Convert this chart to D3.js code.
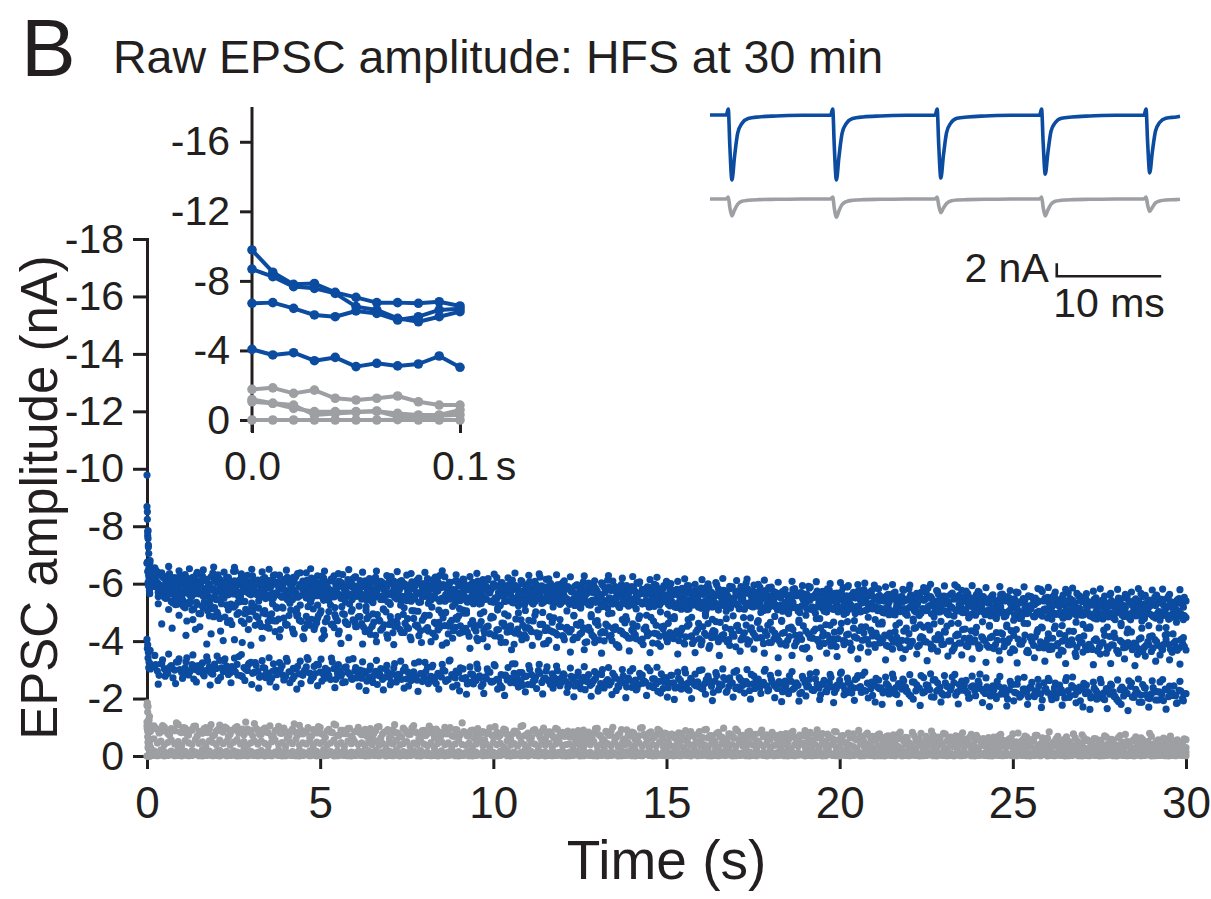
<!DOCTYPE html>
<html>
<head>
<meta charset="utf-8">
<script src="https://cdn.jsdelivr.net/npm/d3@7"></script>
<style>
  body { margin: 0; background: #fff; }
  svg text { font-family: "Liberation Sans", Arial, Helvetica, sans-serif; fill: #231f20; }
</style>
</head>
<body>
<svg id="fig" width="1211" height="899"></svg>
<script>
'use strict';

const BLUE = '#0b4ca1';
const GRAY = '#9d9fa2';
const INK = '#231f20';

// axis ticks
const xTicks = [0, 5, 10, 15, 20, 25, 30];
const yTicks = [0, -2, -4, -6, -8, -10, -12, -14, -16, -18];
const insetXTicks = [0, 0.1];
const insetYTicks = [0, -4, -8, -12, -16];

// first 0.1 s of the train (100 Hz), shown in the inset (nA)
const burstTimes = [0, 0.01, 0.02, 0.03, 0.04, 0.05, 0.06, 0.07, 0.08, 0.09, 0.1];
const burstA = [-9.78, -8.50, -7.80, -7.85, -7.34, -7.05, -6.75, -6.75, -6.71, -6.80, -6.56];
const burstB = [-8.68, -8.24, -7.67, -7.57, -7.28, -6.52, -6.33, -5.85, -5.65, -5.94, -6.23];
const burstC = [-6.71, -6.75, -6.42, -6.04, -5.94, -6.27, -6.13, -5.75, -5.94, -6.33, -6.40];
const burstD = [-4.06, -3.74, -3.87, -3.41, -3.60, -3.07, -3.26, -3.11, -3.22, -3.68, -3.03];
const burstG1 = [-1.76, -1.85, -1.53, -1.72, -1.25, -1.15, -1.25, -1.38, -1.05, -0.86, -0.86];
const burstG2 = [-1.05, -0.96, -0.67, -0.48, -0.48, -0.48, -0.50, -0.38, -0.29, -0.29, -0.58];
const burstG3 = [-1.18, -0.96, -0.86, -0.29, -0.38, -0.45, -0.52, -0.20, -0.15, -0.25, -0.30];
const burstG4 = [0, 0, 0, 0, 0, 0, 0, -0.02, 0, 0, 0];

// rest of the 30 s train, sampled responses every 0.1 s in three interleaved
// sets starting at 0.2 s, 0.225 s and 0.25 s (nA)
const EVEN_START = 0.2;
const WIDE_START = 0.225;
const ODD_START = 0.25;
const TRAIN_STEP = 0.1;

const trainA = [
  -6.52, -6.41, -6.33, -6.18, -6.27, -6.05, -6.21, -5.96, -6.14, -6.32, -6.02, -6.19, -5.91, -6.08, -6.26, -6.11, -5.98, -6.37, -6.04, -6.15, -5.88, -6.22, -6.09, -6.43, -5.95, -6.13, -6.01, -6.29, -6.06, -5.93,
  -6.12, -5.87, -6.21, -6.00, -5.94, -6.31, -6.07, -5.82, -6.16, -6.04, -5.97, -6.25, -5.90, -6.09, -6.38, -5.99, -6.13, -5.85, -6.02, -6.19, -5.93, -6.11, -6.27, -5.96, -6.05, -5.80, -6.14, -6.01, -6.23, -5.92,
  -5.88, -6.10, -5.97, -5.79, -6.22, -5.93, -6.04, -5.85, -6.15, -5.99, -5.74, -6.07, -5.91, -6.30, -5.96, -5.83, -6.12, -6.01, -5.90, -6.18, -5.81, -5.98, -6.06, -5.87, -6.24, -5.95, -5.76, -6.09, -5.92, -6.02,
  -5.95, -5.78, -6.05, -5.86, -5.71, -6.14, -5.90, -5.82, -5.99, -6.21, -5.84, -5.69, -5.93, -6.02, -5.80, -5.88, -6.11, -5.75, -5.97, -5.85, -6.08, -5.73, -5.92, -5.83, -6.17, -5.89, -5.67, -5.96, -6.03, -5.81,
  -5.84, -5.70, -5.95, -5.77, -6.06, -5.66, -5.81, -5.92, -5.74, -5.59, -5.88, -6.12, -5.76, -5.83, -5.68, -5.97, -5.79, -5.63, -5.90, -5.72, -6.01, -5.80, -5.61, -5.86, -5.75, -5.94, -5.69, -5.82, -6.08, -5.73,
  -5.62, -5.80, -5.71, -5.55, -5.93, -5.67, -5.76, -5.50, -5.85, -5.64, -5.99, -5.70, -5.58, -5.82, -5.66, -5.74, -5.52, -5.89, -5.69, -5.61, -5.78, -6.02, -5.65, -5.73, -5.56, -5.87, -5.68, -5.60, -5.81, -5.72,
  -5.66, -5.51, -5.75, -5.57, -5.44, -5.83, -5.60, -5.69, -5.48, -5.91, -5.55, -5.63, -5.40, -5.72, -5.59, -5.78, -5.53, -5.65, -5.46, -5.86, -5.58, -5.50, -5.70, -5.61, -5.42, -5.79, -5.56, -5.67, -5.95, -5.54,
  -5.52, -5.40, -5.63, -5.47, -5.71, -5.36, -5.55, -5.44, -5.82, -5.49, -5.33, -5.60, -5.45, -5.68, -5.51, -5.39, -5.76, -5.48, -5.57, -5.31, -5.62, -5.46, -5.88, -5.42, -5.53, -5.65, -5.38, -5.50, -5.73, -5.44,
  -5.45, -5.32, -5.58, -5.39, -5.27, -5.64, -5.41, -5.50, -5.29, -5.71, -5.37, -5.48, -5.24, -5.55, -5.43, -5.34, -5.80, -5.40, -5.52, -5.30, -5.61, -5.36, -5.47, -5.26, -5.68, -5.42, -5.33, -5.57, -5.38, -5.49,
  -5.37, -5.25, -5.51, -5.31, -5.44, -5.20, -5.62, -5.34, -5.28, -5.47, -5.23, -5.56, -5.35, -5.41, -5.19, -5.66, -5.30, -5.39, -5.26, -5.53, -5.33, -5.45, -5.22, -5.58, -5.36, -5.29, -5.48, -5.32, -5.40
];
const trainAOdd = [
  -6.47, -6.30, -6.24, -6.09, -6.35, -6.16, -5.99, -6.28, -6.07, -6.20, -5.94, -6.12, -6.39, -6.03, -6.17, -5.89, -6.24, -6.10, -6.31, -5.97, -6.06, -6.22, -6.00, -6.44, -6.11, -5.92, -6.18, -6.04, -6.27, -6.08,
  -5.98, -6.17, -6.06, -5.84, -6.29, -6.01, -5.91, -6.13, -6.22, -5.88, -6.08, -6.35, -5.95, -6.03, -5.86, -6.19, -6.10, -5.93, -6.26, -6.05, -5.81, -6.15, -5.99, -6.09, -6.32, -5.90, -6.02, -6.18, -5.87, -6.11,
  -6.03, -5.82, -5.96, -6.16, -5.89, -6.08, -5.77, -6.00, -6.25, -5.91, -5.84, -6.11, -5.98, -5.72, -6.06, -5.94, -6.19, -5.86, -6.02, -5.80, -6.13, -5.92, -6.28, -5.97, -5.85, -6.05, -5.78, -6.09, -5.93, -6.14,
  -5.80, -5.97, -5.88, -6.09, -5.74, -5.91, -6.18, -5.83, -5.95, -5.70, -6.04, -5.87, -5.79, -6.12, -5.92, -5.68, -5.99, -5.85, -6.07, -5.77, -5.94, -6.23, -5.81, -5.89, -6.01, -5.72, -5.96, -5.84, -6.10, -5.90,
  -5.73, -5.91, -5.65, -5.86, -5.79, -6.02, -5.70, -5.84, -5.62, -5.95, -5.77, -5.88, -6.09, -5.71, -5.81, -5.58, -5.93, -5.75, -5.85, -6.04, -5.67, -5.80, -5.89, -5.64, -5.98, -5.76, -5.83, -5.60, -5.92, -5.78,
  -5.75, -5.59, -5.84, -5.66, -5.92, -5.70, -5.53, -5.79, -5.63, -5.87, -5.72, -5.57, -5.96, -5.68, -5.77, -5.61, -5.83, -5.51, -5.74, -5.90, -5.65, -5.81, -5.55, -5.71, -5.98, -5.64, -5.76, -5.86, -5.58, -5.69,
  -5.55, -5.72, -5.62, -5.47, -5.80, -5.58, -5.68, -5.43, -5.64, -5.88, -5.52, -5.74, -5.60, -5.49, -5.82, -5.57, -5.66, -5.41, -5.71, -5.54, -5.93, -5.61, -5.50, -5.77, -5.63, -5.45, -5.69, -5.56, -5.84, -5.59,
  -5.41, -5.58, -5.49, -5.66, -5.37, -5.54, -5.77, -5.45, -5.61, -5.34, -5.52, -5.70, -5.43, -5.85, -5.50, -5.39, -5.63, -5.47, -5.56, -5.32, -5.67, -5.48, -5.59, -5.42, -5.74, -5.51, -5.35, -5.62, -5.46, -5.55,
  -5.36, -5.51, -5.43, -5.28, -5.62, -5.40, -5.55, -5.31, -5.47, -5.69, -5.35, -5.44, -5.58, -5.26, -5.50, -5.38, -5.73, -5.42, -5.33, -5.54, -5.45, -5.22, -5.60, -5.39, -5.48, -5.30, -5.66, -5.41, -5.52, -5.34,
  -5.29, -5.45, -5.36, -5.21, -5.57, -5.32, -5.41, -5.18, -5.50, -5.27, -5.63, -5.38, -5.24, -5.47, -5.33, -5.55, -5.20, -5.43, -5.30, -5.60, -5.35, -5.26, -5.49, -5.37, -5.16, -5.44, -5.31, -5.52
];
const trainAWide = [
  -6.55, -5.70, -6.38, -5.88, -6.60, -6.02, -5.66, -6.45, -6.20, -5.79, -6.52, -5.95, -6.31, -5.64, -6.48, -6.10, -5.83, -6.58, -6.25, -5.73, -6.40, -6.05, -5.91, -6.57, -5.68, -6.34, -6.15, -5.76, -6.50, -5.98,
  -5.58, -6.41, -5.85, -6.50, -6.12, -5.62, -6.30, -5.96, -6.47, -5.71, -6.22, -5.55, -6.38, -6.05, -5.80, -6.52, -5.67, -6.27, -5.92, -6.44, -5.60, -6.17, -5.75, -6.35, -6.01, -5.53, -6.49, -5.88, -6.24, -5.69,
  -6.40, -5.52, -6.18, -5.73, -6.44, -5.90, -5.47, -6.28, -5.66, -6.09, -6.42, -5.58, -6.00, -5.80, -6.35, -5.49, -6.13, -5.70, -6.39, -5.95, -5.55, -6.23, -5.84, -6.45, -5.62, -6.05, -5.77, -6.31, -5.50, -6.16,
  -5.41, -6.25, -5.68, -6.36, -5.92, -5.45, -6.12, -5.79, -6.33, -5.55, -6.02, -5.38, -6.20, -5.86, -6.37, -5.62, -6.08, -5.49, -6.29, -5.74, -5.97, -6.34, -5.42, -6.15, -5.83, -5.58, -6.31, -5.70, -6.05, -5.47,
  -6.24, -5.33, -5.96, -5.60, -6.27, -5.82, -5.36, -6.10, -5.51, -6.03, -5.70, -6.28, -5.42, -5.90, -5.64, -6.19, -5.29, -5.85, -6.25, -5.56, -6.06, -5.75, -5.31, -6.14, -5.67, -6.22, -5.45, -5.93, -5.38, -6.00,
  -5.22, -6.08, -5.55, -6.17, -5.74, -5.26, -5.98, -5.61, -6.14, -5.39, -5.85, -5.19, -6.04, -5.70, -6.18, -5.47, -5.91, -5.32, -6.11, -5.58, -5.80, -6.16, -5.24, -5.95, -5.66, -5.43, -6.12, -5.52, -5.88, -5.29,
  -6.05, -5.13, -5.79, -5.40, -6.08, -5.62, -5.17, -5.93, -5.34, -5.85, -5.52, -6.07, -5.22, -5.73, -5.45, -6.00, -5.10, -5.67, -6.04, -5.37, -5.88, -5.56, -5.14, -5.97, -5.48, -6.02, -5.27, -5.76, -5.19, -5.82,
  -5.03, -5.89, -5.35, -5.97, -5.55, -5.07, -5.80, -5.42, -5.95, -5.20, -5.66, -5.00, -5.86, -5.50, -5.98, -5.28, -5.73, -5.12, -5.92, -5.38, -5.61, -5.96, -5.05, -5.77, -5.46, -5.24, -5.93, -5.33, -5.70, -5.10,
  -5.86, -4.95, -5.61, -5.22, -5.90, -5.44, -4.99, -5.76, -5.16, -5.68, -5.35, -5.89, -5.04, -5.55, -5.27, -5.83, -4.92, -5.49, -5.87, -5.19, -5.71, -5.38, -4.96, -5.80, -5.30, -5.85, -5.09, -5.58, -5.01, -5.65,
  -4.88, -5.74, -5.20, -5.82, -5.40, -4.92, -5.66, -5.27, -5.80, -5.05, -5.51, -4.85, -5.71, -5.36, -5.83, -5.13, -5.59, -4.97, -5.78, -5.24, -5.47, -5.81, -4.90, -5.63, -5.31, -5.09, -5.79, -5.18
];

const trainB = [
  -6.21, -6.05, -5.92, -5.84, -5.71, -5.88, -5.63, -5.79, -5.95, -5.68, -5.82, -5.57, -5.74, -5.90, -5.66, -5.81, -5.52, -5.77, -5.69, -5.86, -5.60, -5.75, -5.98, -5.64, -5.72, -5.55, -5.83, -5.70, -5.61, -5.78,
  -5.70, -5.55, -5.81, -5.59, -5.47, -5.66, -5.88, -5.53, -5.62, -5.74, -5.44, -5.68, -5.57, -5.79, -5.50, -5.64, -5.92, -5.58, -5.71, -5.42, -5.60, -5.76, -5.54, -5.67, -5.49, -5.84, -5.61, -5.52, -5.73, -5.63,
  -5.46, -5.63, -5.51, -5.38, -5.72, -5.55, -5.44, -5.60, -5.34, -5.67, -5.49, -5.81, -5.53, -5.41, -5.58, -5.47, -5.69, -5.36, -5.56, -5.64, -5.43, -5.52, -5.75, -5.48, -5.39, -5.61, -5.54, -5.32, -5.66, -5.50,
  -5.51, -5.37, -5.60, -5.42, -5.29, -5.55, -5.46, -5.68, -5.35, -5.48, -5.24, -5.57, -5.40, -5.63, -5.33, -5.45, -5.52, -5.27, -5.71, -5.44, -5.38, -5.58, -5.31, -5.49, -5.41, -5.65, -5.36, -5.47, -5.54, -5.39,
  -5.28, -5.45, -5.34, -5.19, -5.52, -5.36, -5.25, -5.43, -5.61, -5.30, -5.41, -5.15, -5.38, -5.49, -5.27, -5.56, -5.32, -5.22, -5.46, -5.35, -5.64, -5.29, -5.40, -5.18, -5.50, -5.33, -5.26, -5.44, -5.37, -5.23,
  -5.31, -5.17, -5.39, -5.22, -5.10, -5.46, -5.26, -5.35, -5.14, -5.28, -5.53, -5.20, -5.33, -5.08, -5.42, -5.25, -5.16, -5.37, -5.29, -5.12, -5.48, -5.23, -5.34, -5.19, -5.40, -5.27, -5.06, -5.30, -5.21, -5.44,
  -5.09, -5.26, -5.13, -5.01, -5.32, -5.17, -5.05, -5.22, -5.41, -5.11, -5.19, -4.97, -5.28, -5.15, -5.03, -5.36, -5.12, -5.24, -5.07, -5.18, -4.99, -5.30, -5.14, -5.21, -5.02, -5.38, -5.10, -5.25, -5.16, -5.06,
  -5.12, -4.98, -5.20, -5.04, -4.91, -5.27, -5.08, -4.95, -5.16, -5.33, -5.01, -4.89, -5.13, -5.06, -5.24, -4.94, -5.10, -5.02, -5.29, -4.97, -5.15, -4.87, -5.07, -5.19, -5.00, -5.36, -4.93, -5.11, -5.03, -5.22,
  -4.92, -5.08, -4.95, -4.83, -5.14, -4.99, -4.88, -5.05, -5.22, -4.91, -4.79, -5.02, -4.96, -5.17, -4.86, -5.00, -4.93, -5.11, -4.81, -5.06, -4.97, -5.25, -4.89, -5.03, -4.85, -5.09, -4.94, -5.13, -4.90, -5.01,
  -4.96, -4.84, -5.03, -4.88, -4.77, -5.10, -4.92, -4.81, -5.00, -5.18, -4.86, -4.95, -4.74, -5.06, -4.89, -4.98, -4.79, -5.13, -4.91, -4.83, -5.01, -4.87, -5.08, -4.76, -4.94, -4.85, -5.04, -4.90, -4.82
];
const trainBOdd = [
  -6.10, -5.97, -5.86, -5.76, -5.91, -5.65, -5.83, -5.58, -5.72, -5.89, -5.62, -5.80, -5.69, -5.94, -5.59, -5.73, -5.85, -5.54, -5.78, -5.67, -5.90, -5.61, -5.76, -5.84, -5.56, -5.71, -5.96, -5.66, -5.79, -5.63,
  -5.57, -5.74, -5.61, -5.86, -5.50, -5.69, -5.58, -5.80, -5.45, -5.65, -5.77, -5.53, -5.90, -5.60, -5.70, -5.48, -5.82, -5.63, -5.55, -5.75, -5.41, -5.67, -5.85, -5.59, -5.51, -5.72, -5.64, -5.94, -5.56, -5.68,
  -5.58, -5.42, -5.66, -5.50, -5.77, -5.45, -5.59, -5.37, -5.62, -5.53, -5.70, -5.40, -5.56, -5.84, -5.47, -5.61, -5.35, -5.54, -5.68, -5.44, -5.57, -5.73, -5.39, -5.51, -5.63, -5.46, -5.79, -5.52, -5.41, -5.60,
  -5.36, -5.53, -5.44, -5.62, -5.31, -5.47, -5.70, -5.39, -5.50, -5.26, -5.58, -5.43, -5.66, -5.34, -5.49, -5.41, -5.74, -5.38, -5.55, -5.29, -5.46, -5.61, -5.35, -5.52, -5.40, -5.68, -5.45, -5.32, -5.56, -5.42,
  -5.39, -5.24, -5.47, -5.31, -5.58, -5.27, -5.42, -5.35, -5.63, -5.20, -5.37, -5.51, -5.29, -5.44, -5.17, -5.40, -5.55, -5.33, -5.25, -5.48, -5.36, -5.66, -5.30, -5.43, -5.21, -5.53, -5.34, -5.46, -5.28, -5.38,
  -5.18, -5.35, -5.25, -5.44, -5.13, -5.30, -5.51, -5.22, -5.36, -5.09, -5.27, -5.41, -5.19, -5.57, -5.24, -5.32, -5.15, -5.38, -5.26, -5.47, -5.11, -5.29, -5.21, -5.43, -5.34, -5.16, -5.50, -5.23, -5.31, -5.20,
  -5.20, -5.04, -5.27, -5.11, -5.35, -5.16, -5.00, -5.23, -5.13, -5.44, -5.08, -5.19, -5.31, -5.05, -5.25, -5.14, -5.39, -5.02, -5.18, -5.29, -5.10, -5.22, -4.96, -5.17, -5.33, -5.07, -5.26, -5.12, -5.47, -5.15,
  -5.00, -5.17, -5.06, -4.93, -5.25, -5.03, -5.13, -4.90, -5.21, -5.07, -5.31, -4.97, -5.10, -5.19, -4.95, -5.14, -5.02, -5.38, -5.05, -4.92, -5.16, -5.08, -5.27, -4.99, -5.11, -4.86, -5.18, -5.04, -5.23, -5.01,
  -5.03, -4.88, -5.10, -4.94, -5.19, -4.85, -5.01, -5.13, -4.91, -5.07, -4.82, -5.16, -4.98, -5.24, -4.90, -5.04, -4.87, -5.12, -4.96, -5.30, -4.93, -5.00, -4.80, -5.08, -4.95, -5.20, -4.89, -5.05, -4.92, -5.15,
  -4.93, -4.80, -5.02, -4.87, -5.11, -4.84, -4.97, -4.75, -5.05, -4.91, -5.16, -4.82, -4.99, -4.88, -5.08, -4.78, -4.95, -5.21, -4.86, -4.92, -4.73, -5.03, -4.90, -4.81, -5.07, -4.85, -4.96, -4.89
];
const trainBWide = [
  -6.20, -5.30, -5.92, -5.50, -6.24, -5.78, -5.27, -6.05, -5.44, -5.98, -5.62, -6.22, -5.35, -5.85, -5.56, -6.15, -5.25, -5.81, -6.18, -5.47, -6.01, -5.68, -5.29, -6.10, -5.59, -6.23, -5.38, -5.88, -5.32, -5.95,
  -5.15, -6.02, -5.48, -6.11, -5.67, -5.19, -5.92, -5.55, -6.08, -5.32, -5.78, -5.12, -5.98, -5.64, -6.12, -5.40, -5.85, -5.25, -6.05, -5.51, -5.73, -6.10, -5.17, -5.89, -5.60, -5.36, -6.06, -5.45, -5.81, -5.22,
  -5.98, -5.07, -5.73, -5.34, -6.02, -5.56, -5.10, -5.88, -5.28, -5.80, -5.47, -6.01, -5.16, -5.67, -5.39, -5.95, -5.04, -5.61, -5.99, -5.31, -5.83, -5.50, -5.08, -5.91, -5.42, -5.97, -5.21, -5.70, -5.13, -5.77,
  -4.97, -5.84, -5.30, -5.92, -5.50, -5.02, -5.75, -5.37, -5.90, -5.15, -5.61, -4.95, -5.81, -5.45, -5.93, -5.23, -5.68, -5.07, -5.87, -5.33, -5.56, -5.91, -5.00, -5.72, -5.41, -5.19, -5.88, -5.28, -5.64, -5.05,
  -5.79, -4.88, -5.54, -5.15, -5.83, -5.37, -4.92, -5.69, -5.09, -5.61, -5.28, -5.82, -4.97, -5.48, -5.20, -5.76, -4.85, -5.42, -5.80, -5.12, -5.64, -5.31, -4.90, -5.73, -5.23, -5.78, -5.02, -5.51, -4.94, -5.58,
  -4.78, -5.65, -5.11, -5.73, -5.31, -4.83, -5.56, -5.18, -5.71, -4.96, -5.42, -4.76, -5.62, -5.27, -5.74, -5.04, -5.49, -4.88, -5.68, -5.14, -5.37, -5.72, -4.81, -5.53, -5.22, -5.00, -5.69, -5.09, -5.45, -4.86,
  -5.60, -4.69, -5.35, -4.96, -5.64, -5.18, -4.73, -5.50, -4.90, -5.42, -5.09, -5.63, -4.78, -5.29, -5.01, -5.57, -4.66, -5.23, -5.61, -4.93, -5.45, -5.12, -4.71, -5.54, -5.04, -5.59, -4.83, -5.32, -4.75, -5.39,
  -4.60, -5.46, -4.92, -5.54, -5.12, -4.64, -5.37, -4.99, -5.52, -4.77, -5.23, -4.57, -5.43, -5.08, -5.55, -4.85, -5.30, -4.69, -5.49, -4.95, -5.18, -5.53, -4.62, -5.34, -5.03, -4.81, -5.50, -4.90, -5.26, -4.67,
  -5.43, -4.52, -5.18, -4.79, -5.47, -5.01, -4.56, -5.33, -4.73, -5.25, -4.92, -5.46, -4.61, -5.12, -4.84, -5.40, -4.49, -5.06, -5.44, -4.76, -5.28, -4.95, -4.54, -5.37, -4.87, -5.42, -4.66, -5.15, -4.58, -5.22,
  -4.45, -5.31, -4.77, -5.39, -4.97, -4.49, -5.22, -4.84, -5.37, -4.62, -5.08, -4.42, -5.28, -4.93, -5.40, -4.70, -5.15, -4.54, -5.34, -4.80, -5.03, -5.38, -4.47, -5.19, -4.88, -4.66, -5.35, -4.75
];

const trainC = [
  -6.10, -5.88, -5.71, -5.54, -5.60, -5.38, -5.47, -5.29, -5.52, -5.16, -5.35, -5.08, -4.41, -4.96, -5.22, -5.31, -4.88, -5.13, -5.44, -4.79, -4.02, -5.26, -4.71, -5.18, -4.93, -5.37, -4.62, -5.01, -3.86, -5.20,
  -4.82, -4.51, -5.06, -4.68, -4.95, -4.33, -4.77, -5.18, -4.60, -4.89, -4.42, -5.01, -4.73, -4.16, -4.86, -4.55, -5.12, -4.64, -4.97, -4.38, -4.80, -5.25, -4.47, -4.71, -3.92, -4.93, -4.58, -5.04, -4.66, -4.84,
  -4.61, -4.33, -4.87, -4.52, -4.20, -4.74, -4.45, -5.02, -4.58, -4.29, -4.69, -4.41, -4.93, -4.50, -4.14, -4.79, -4.56, -4.36, -4.83, -4.47, -3.98, -4.65, -4.39, -4.98, -4.54, -4.25, -4.72, -4.48, -4.88, -4.31,
  -4.44, -4.17, -4.71, -4.35, -4.56, -4.08, -4.49, -4.26, -4.83, -4.39, -4.12, -4.62, -4.31, -4.53, -3.89, -4.42, -4.74, -4.22, -4.47, -4.33, -4.90, -4.15, -4.58, -4.37, -4.03, -4.66, -4.28, -4.51, -4.19, -4.43,
  -4.32, -4.05, -4.58, -4.24, -4.46, -3.97, -4.36, -4.15, -4.71, -4.28, -4.01, -4.52, -4.20, -4.40, -3.84, -4.34, -4.63, -4.11, -4.38, -4.22, -4.79, -4.07, -4.49, -4.26, -3.93, -4.55, -4.17, -4.43, -4.09, -4.30,
  -4.09, -4.35, -4.21, -3.94, -4.52, -4.16, -4.02, -4.40, -3.87, -4.27, -4.61, -4.12, -4.33, -3.98, -4.19, -4.47, -4.05, -4.24, -3.80, -4.37, -4.14, -4.56, -4.00, -4.29, -4.11, -4.43, -3.91, -4.20, -4.65, -4.07,
  -4.14, -3.90, -4.30, -4.03, -4.49, -3.84, -4.19, -4.06, -3.72, -4.25, -4.11, -4.42, -3.96, -4.17, -4.57, -3.99, -4.08, -3.81, -4.34, -4.02, -4.22, -3.93, -4.45, -4.10, -3.77, -4.28, -4.05, -4.38, -3.88, -4.15,
  -3.95, -4.21, -3.82, -4.09, -4.33, -3.91, -4.03, -3.70, -4.26, -3.99, -4.47, -3.86, -4.12, -3.97, -4.39, -3.78, -4.05, -4.18, -3.89, -4.52, -4.01, -3.74, -4.24, -3.93, -4.10, -3.81, -4.36, -4.04, -3.87, -4.15,
  -4.01, -3.79, -4.17, -3.88, -3.66, -4.25, -3.94, -4.08, -3.73, -4.40, -3.90, -4.02, -3.62, -4.13, -3.85, -4.31, -3.97, -3.76, -4.06, -3.83, -4.44, -3.91, -3.69, -4.19, -3.87, -4.04, -3.58, -4.10, -3.95, -3.80,
  -3.89, -3.71, -4.08, -3.80, -3.95, -3.58, -4.16, -3.86, -3.67, -4.02, -3.77, -4.29, -3.83, -3.93, -3.54, -4.11, -3.79, -3.98, -3.64, -4.05, -3.85, -3.73, -4.21, -3.88, -3.61, -4.00, -3.76, -3.92, -3.69
];
const trainCOdd = [
  -5.95, -5.80, -5.63, -5.49, -5.66, -5.33, -5.42, -5.57, -5.21, -4.70, -5.39, -5.12, -5.28, -4.95, -5.35, -5.06, -4.25, -5.17, -4.91, -5.30, -4.84, -5.09, -4.58, -5.24, -4.99, -3.95, -5.11, -4.76, -5.03, -4.87,
  -4.64, -4.98, -4.49, -4.87, -4.71, -5.14, -4.40, -4.80, -4.57, -5.08, -4.26, -4.92, -4.69, -4.45, -5.20, -4.76, -4.53, -4.89, -4.08, -4.67, -5.03, -4.59, -4.83, -4.35, -4.96, -4.62, -5.29, -4.74, -4.50, -4.85,
  -4.49, -4.78, -4.23, -4.66, -4.92, -4.38, -4.57, -4.10, -4.70, -4.51, -4.85, -4.30, -4.62, -4.44, -5.06, -4.55, -4.19, -4.73, -4.41, -4.90, -4.27, -4.60, -4.47, -4.81, -3.94, -4.64, -4.36, -4.76, -4.53, -4.97,
  -4.31, -4.60, -4.45, -4.02, -4.68, -4.27, -4.52, -4.86, -4.18, -4.40, -4.63, -3.96, -4.48, -4.33, -4.77, -4.24, -4.55, -4.11, -4.42, -4.70, -4.29, -4.58, -3.90, -4.46, -4.36, -4.81, -4.21, -4.50, -4.05, -4.39,
  -4.40, -4.13, -4.55, -4.29, -3.95, -4.48, -4.21, -4.66, -4.04, -4.33, -4.59, -4.17, -4.45, -3.88, -4.37, -4.25, -4.74, -4.10, -4.31, -4.52, -4.00, -4.42, -4.19, -4.83, -4.27, -3.91, -4.50, -4.23, -4.62, -4.14,
  -4.26, -4.02, -4.44, -4.15, -4.58, -3.92, -4.31, -4.08, -4.50, -4.20, -3.84, -4.37, -4.12, -4.65, -4.23, -3.98, -4.41, -4.17, -4.55, -4.04, -4.29, -3.89, -4.46, -4.19, -4.71, -4.10, -4.33, -3.95, -4.39, -4.22,
  -4.01, -4.27, -3.86, -4.16, -4.40, -3.97, -4.22, -4.53, -3.78, -4.12, -4.35, -4.05, -4.46, -3.92, -4.20, -3.83, -4.31, -4.09, -4.62, -3.99, -4.24, -3.75, -4.14, -4.37, -4.03, -4.50, -3.89, -4.18, -4.28, -3.94,
  -4.07, -3.85, -4.28, -3.96, -4.13, -3.77, -4.35, -4.02, -3.90, -4.44, -3.81, -4.16, -3.98, -4.55, -3.73, -4.09, -4.23, -3.88, -4.31, -4.00, -3.66, -4.19, -3.93, -4.40, -3.84, -4.11, -3.97, -4.48, -3.79, -4.05,
  -3.86, -4.12, -3.74, -4.03, -4.29, -3.81, -3.96, -4.37, -3.68, -4.07, -3.89, -4.21, -3.60, -3.99, -4.15, -3.77, -4.46, -3.92, -3.71, -4.10, -3.84, -4.26, -3.65, -4.01, -3.87, -4.34, -3.78, -3.94, -4.18, -3.70,
  -3.81, -4.03, -3.66, -3.92, -4.20, -3.74, -3.87, -4.12, -3.57, -3.96, -3.79, -4.33, -3.70, -3.90, -4.07, -3.63, -3.85, -4.16, -3.76, -3.98, -3.52, -3.88, -4.24, -3.72, -3.94, -3.68, -4.05, -3.82
];
const trainCWide = [
  -5.90, -5.55, -4.60, -5.75, -5.10, -4.45, -5.60, -4.90, -5.40, -4.20, -5.30, -4.75, -5.65, -4.50, -5.15, -3.90, -5.45, -4.85, -5.00, -4.35, -5.50, -4.65, -5.25, -4.05, -5.35, -4.70, -4.95, -4.40, -5.20, -4.55,
  -5.40, -4.10, -4.95, -4.45, -5.30, -4.70, -4.15, -5.15, -4.55, -5.42, -4.30, -4.88, -5.25, -4.08, -4.62, -5.35, -4.40, -4.80, -5.05, -4.20, -5.45, -4.58, -4.92, -4.25, -5.20, -4.68, -4.12, -5.10, -4.50, -4.85,
  -3.90, -5.20, -4.40, -4.95, -3.98, -4.70, -5.12, -4.22, -4.85, -3.88, -4.60, -5.25, -4.30, -4.78, -4.05, -5.05, -4.48, -3.95, -4.90, -4.35, -5.18, -4.15, -4.65, -3.86, -5.00, -4.52, -4.10, -4.82, -4.27, -5.08,
  -5.05, -3.75, -4.60, -4.10, -4.95, -4.38, -3.80, -4.80, -4.20, -5.08, -3.95, -4.52, -4.88, -3.70, -4.28, -4.98, -4.05, -4.45, -4.72, -3.85, -5.02, -4.25, -4.58, -3.92, -4.85, -4.32, -3.78, -4.75, -4.15, -4.48,
  -3.62, -4.90, -4.12, -4.65, -3.70, -4.40, -4.85, -3.95, -4.55, -3.58, -4.30, -4.95, -4.02, -4.50, -3.78, -4.75, -4.20, -3.66, -4.60, -4.08, -4.88, -3.88, -4.35, -3.60, -4.70, -4.25, -3.82, -4.52, -3.98, -4.80,
  -4.85, -3.55, -4.38, -3.90, -4.75, -4.18, -3.60, -4.62, -4.00, -4.88, -3.75, -4.30, -4.68, -3.50, -4.08, -4.78, -3.85, -4.25, -4.52, -3.65, -4.82, -4.05, -4.40, -3.72, -4.65, -4.12, -3.58, -4.55, -3.95, -4.28,
  -3.42, -4.72, -3.92, -4.45, -3.50, -4.20, -4.65, -3.75, -4.35, -3.40, -4.10, -4.78, -3.82, -4.30, -3.58, -4.55, -4.00, -3.46, -4.40, -3.88, -4.68, -3.68, -4.15, -3.38, -4.50, -4.05, -3.62, -4.32, -3.78, -4.60,
  -4.66, -3.35, -4.18, -3.72, -4.55, -3.98, -3.40, -4.45, -3.82, -4.70, -3.55, -4.10, -4.48, -3.32, -3.90, -4.60, -3.65, -4.05, -4.35, -3.48, -4.62, -3.85, -4.22, -3.52, -4.42, -3.95, -3.38, -4.30, -3.75, -4.12,
  -3.26, -4.55, -3.78, -4.30, -3.35, -4.02, -4.50, -3.60, -4.20, -3.24, -3.95, -4.62, -3.68, -4.15, -3.42, -4.40, -3.85, -3.30, -4.25, -3.72, -4.52, -3.52, -4.00, -3.22, -4.35, -3.90, -3.46, -4.12, -3.62, -4.45,
  -4.50, -3.18, -4.02, -3.55, -4.38, -3.80, -3.22, -4.28, -3.66, -4.54, -3.38, -3.95, -4.32, -3.15, -3.74, -4.45, -3.48, -3.88, -4.18, -3.30, -4.46, -3.70, -4.05, -3.35, -4.25, -3.78, -3.20, -4.12
];

const trainD = [
  -3.12, -2.96, -3.21, -3.04, -2.87, -3.15, -2.99, -3.28, -2.91, -3.07, -2.82, -3.18, -3.01, -2.93, -3.24, -2.97, -3.10, -2.85, -3.05, -3.33, -2.94, -3.13, -2.89, -3.02, -3.19, -2.80, -3.08, -2.98, -3.26, -2.92,
  -2.95, -2.79, -3.06, -2.84, -2.71, -2.99, -2.90, -3.14, -2.76, -2.93, -2.68, -3.02, -2.86, -2.81, -3.10, -2.89, -2.74, -3.19, -2.92, -2.83, -2.97, -2.66, -3.04, -2.87, -2.78, -3.08, -2.91, -2.72, -2.96, -2.85,
  -2.71, -2.90, -2.76, -2.62, -2.95, -2.80, -2.67, -3.03, -2.74, -2.85, -2.58, -2.82, -2.98, -2.69, -2.79, -2.93, -2.64, -2.87, -2.73, -3.09, -2.77, -2.60, -2.88, -2.75, -2.96, -2.66, -2.83, -2.72, -2.91, -2.70,
  -2.73, -2.57, -2.84, -2.63, -2.79, -2.51, -2.70, -2.92, -2.60, -2.67, -2.46, -2.81, -2.65, -2.55, -2.88, -2.69, -2.58, -2.76, -2.49, -2.83, -2.64, -2.97, -2.56, -2.71, -2.61, -2.86, -2.53, -2.68, -2.78, -2.59,
  -2.50, -2.68, -2.55, -2.41, -2.74, -2.59, -2.46, -2.63, -2.86, -2.52, -2.37, -2.66, -2.57, -2.78, -2.44, -2.61, -2.53, -2.71, -2.39, -2.64, -2.49, -2.82, -2.56, -2.43, -2.69, -2.51, -2.60, -2.35, -2.72, -2.54,
  -2.55, -2.40, -2.63, -2.45, -2.33, -2.70, -2.49, -2.58, -2.37, -2.52, -2.78, -2.43, -2.61, -2.30, -2.47, -2.66, -2.42, -2.54, -2.35, -2.73, -2.46, -2.59, -2.28, -2.51, -2.64, -2.39, -2.56, -2.44, -2.81, -2.48,
  -2.35, -2.52, -2.41, -2.27, -2.60, -2.38, -2.46, -2.22, -2.55, -2.43, -2.31, -2.68, -2.36, -2.49, -2.25, -2.57, -2.40, -2.33, -2.63, -2.44, -2.20, -2.51, -2.37, -2.72, -2.42, -2.29, -2.54, -2.34, -2.47, -2.39,
  -2.37, -2.24, -2.45, -2.29, -2.17, -2.52, -2.33, -2.40, -2.15, -2.58, -2.27, -2.36, -2.20, -2.48, -2.31, -2.64, -2.26, -2.39, -2.12, -2.43, -2.30, -2.55, -2.23, -2.34, -2.46, -2.18, -2.41, -2.28, -2.61, -2.32,
  -2.18, -2.35, -2.21, -2.08, -2.42, -2.25, -2.13, -2.30, -2.49, -2.19, -2.05, -2.33, -2.24, -2.40, -2.11, -2.27, -2.16, -2.55, -2.22, -2.09, -2.37, -2.20, -2.31, -2.02, -2.28, -2.45, -2.14, -2.26, -2.34, -2.17,
  -2.19, -2.06, -2.28, -2.11, -2.00, -2.35, -2.15, -2.23, -1.97, -2.31, -2.09, -2.18, -2.42, -2.04, -2.21, -2.12, -2.38, -2.02, -2.16, -2.26, -1.95, -2.14, -2.33, -2.07, -2.20, -2.10, -2.29, -2.01, -2.17
];
const trainDOdd = [
  -3.18, -2.81, -3.35, -2.95, -3.09, -2.72, -3.27, -3.01, -2.86, -3.42, -2.97, -2.68, -3.14, -3.05, -2.79, -3.31, -2.90, -3.20, -2.63, -3.07, -3.38, -2.84, -3.11, -2.93, -3.46, -2.77, -3.02, -3.23, -2.88, -3.16,
  -2.74, -3.08, -2.90, -2.58, -3.21, -2.83, -3.02, -2.65, -3.30, -2.93, -2.77, -3.12, -2.52, -2.98, -3.36, -2.70, -2.87, -3.17, -2.61, -3.05, -2.81, -3.27, -2.67, -2.95, -2.55, -3.10, -2.85, -3.39, -2.72, -2.99,
  -2.96, -2.61, -3.13, -2.80, -2.49, -3.04, -2.73, -2.91, -2.56, -3.22, -2.84, -2.67, -3.09, -2.44, -2.88, -2.76, -3.28, -2.59, -2.94, -2.70, -3.16, -2.52, -2.83, -3.00, -2.64, -3.34, -2.78, -2.47, -3.07, -2.69,
  -2.51, -2.86, -2.69, -3.05, -2.42, -2.75, -2.93, -2.57, -3.14, -2.64, -2.38, -2.82, -2.71, -3.21, -2.53, -2.90, -2.46, -2.78, -3.02, -2.60, -2.35, -2.88, -2.67, -3.10, -2.49, -2.74, -2.97, -2.55, -2.81, -2.40,
  -2.77, -2.44, -2.92, -2.60, -2.31, -2.83, -2.52, -2.70, -2.36, -3.01, -2.58, -2.47, -2.88, -2.28, -2.65, -2.79, -2.40, -2.95, -2.55, -2.34, -2.74, -2.62, -3.08, -2.45, -2.69, -2.25, -2.86, -2.57, -2.38, -2.81,
  -2.37, -2.70, -2.52, -2.89, -2.29, -2.61, -2.45, -2.98, -2.33, -2.66, -2.55, -2.21, -2.80, -2.43, -2.73, -2.26, -2.58, -2.92, -2.40, -2.64, -2.19, -2.51, -2.84, -2.35, -2.68, -2.47, -3.02, -2.30, -2.59, -2.42,
  -2.59, -2.24, -2.47, -2.79, -2.32, -2.55, -2.17, -2.68, -2.41, -2.86, -2.28, -2.50, -2.13, -2.63, -2.36, -2.74, -2.21, -2.45, -2.92, -2.30, -2.57, -2.19, -2.66, -2.38, -2.81, -2.26, -2.52, -2.11, -2.70, -2.34,
  -2.20, -2.52, -2.35, -2.71, -2.14, -2.43, -2.62, -2.27, -2.09, -2.57, -2.38, -2.80, -2.23, -2.46, -2.06, -2.66, -2.31, -2.18, -2.55, -2.40, -2.75, -2.12, -2.49, -2.29, -2.63, -2.03, -2.44, -2.34, -2.85, -2.25,
  -2.41, -2.09, -2.30, -2.60, -2.15, -2.37, -1.98, -2.50, -2.22, -2.69, -2.12, -2.33, -2.05, -2.56, -2.26, -2.44, -1.95, -2.35, -2.63, -2.17, -2.02, -2.47, -2.20, -2.73, -2.10, -2.39, -2.28, -1.92, -2.53, -2.24,
  -2.02, -2.36, -2.18, -2.55, -1.96, -2.27, -2.46, -2.08, -1.90, -2.40, -2.21, -2.62, -2.05, -2.32, -1.87, -2.49, -2.14, -2.00, -2.38, -2.24, -2.58, -1.93, -2.30, -2.11, -2.44, -1.85, -2.26, -2.16
];
const trainDWide = [
  -3.50, -2.50, -3.22, -2.78, -3.55, -3.05, -2.52, -3.38, -2.70, -3.28, -2.92, -3.52, -2.58, -3.15, -2.85, -3.45, -2.47, -3.08, -3.48, -2.74, -3.32, -2.97, -2.55, -3.41, -2.82, -3.53, -2.63, -3.18, -2.49, -3.25,
  -2.36, -3.32, -2.73, -3.42, -2.95, -2.40, -3.25, -2.82, -3.40, -2.55, -3.05, -2.33, -3.30, -2.90, -3.43, -2.62, -3.12, -2.45, -3.37, -2.70, -2.98, -3.41, -2.38, -3.18, -2.86, -2.58, -3.35, -2.67, -3.08, -2.43,
  -3.28, -2.28, -3.00, -2.56, -3.33, -2.83, -2.30, -3.16, -2.48, -3.06, -2.70, -3.30, -2.36, -2.93, -2.63, -3.23, -2.25, -2.86, -3.26, -2.52, -3.10, -2.75, -2.33, -3.19, -2.60, -3.31, -2.41, -2.96, -2.27, -3.03,
  -2.15, -3.10, -2.51, -3.20, -2.73, -2.18, -3.03, -2.60, -3.18, -2.33, -2.83, -2.11, -3.08, -2.68, -3.21, -2.40, -2.90, -2.23, -3.15, -2.48, -2.76, -3.19, -2.16, -2.96, -2.64, -2.36, -3.13, -2.45, -2.86, -2.21,
  -3.06, -2.06, -2.78, -2.34, -3.11, -2.61, -2.08, -2.94, -2.26, -2.84, -2.48, -3.08, -2.14, -2.71, -2.41, -3.01, -2.03, -2.64, -3.04, -2.30, -2.88, -2.53, -2.11, -2.97, -2.38, -3.09, -2.19, -2.74, -2.05, -2.81,
  -1.97, -2.92, -2.33, -3.02, -2.55, -2.00, -2.85, -2.42, -3.00, -2.15, -2.65, -1.93, -2.90, -2.50, -3.03, -2.22, -2.72, -2.05, -2.97, -2.30, -2.58, -3.01, -1.98, -2.78, -2.46, -2.18, -2.95, -2.27, -2.68, -2.03,
  -2.89, -1.89, -2.61, -2.17, -2.94, -2.44, -1.91, -2.77, -2.09, -2.67, -2.31, -2.91, -1.97, -2.54, -2.24, -2.84, -1.86, -2.47, -2.87, -2.13, -2.71, -2.36, -1.94, -2.80, -2.21, -2.92, -2.02, -2.57, -1.88, -2.64,
  -1.80, -2.75, -2.16, -2.85, -2.38, -1.83, -2.68, -2.25, -2.83, -1.98, -2.48, -1.76, -2.73, -2.33, -2.86, -2.05, -2.55, -1.88, -2.80, -2.13, -2.41, -2.84, -1.81, -2.61, -2.29, -2.01, -2.78, -2.10, -2.51, -1.86,
  -2.72, -1.72, -2.44, -2.00, -2.77, -2.27, -1.74, -2.60, -1.92, -2.50, -2.14, -2.74, -1.80, -2.37, -2.07, -2.67, -1.69, -2.30, -2.70, -1.96, -2.54, -2.19, -1.77, -2.63, -2.04, -2.75, -1.85, -2.40, -1.71, -2.47,
  -1.62, -2.57, -1.98, -2.67, -2.20, -1.65, -2.50, -2.07, -2.65, -1.80, -2.30, -1.58, -2.55, -2.15, -2.68, -1.87, -2.37, -1.70, -2.62, -1.95, -2.23, -2.66, -1.63, -2.43, -2.11, -1.83, -2.60, -1.92
];

const trainG1 = [
  -1.05, -0.92, -0.84, -1.01, -0.78, -0.95, -0.88, -1.10, -0.81, -0.97, -0.73, -0.90, -1.04, -0.86, -0.79, -0.99, -0.93, -0.70, -0.87, -1.08, -0.83, -0.96, -0.76, -0.91, -1.02, -0.85, -0.74, -0.94, -0.89, -1.13,
  -0.90, -0.76, -0.97, -0.81, -0.68, -0.88, -1.03, -0.79, -0.85, -0.71, -0.94, -0.82, -1.07, -0.77, -0.86, -0.65, -0.92, -0.80, -0.99, -0.74, -0.87, -0.83, -1.11, -0.72, -0.89, -0.78, -0.95, -0.69, -0.84, -1.00,
  -0.74, -0.93, -0.79, -0.66, -0.88, -1.02, -0.77, -0.84, -0.62, -0.91, -0.81, -0.70, -0.97, -0.83, -0.75, -1.06, -0.80, -0.68, -0.89, -0.78, -0.95, -0.64, -0.86, -0.73, -1.00, -0.82, -0.71, -0.92, -0.76, -1.15,
  -0.81, -0.69, -0.90, -0.74, -0.61, -0.85, -0.78, -0.98, -0.67, -0.83, -0.72, -0.94, -0.75, -0.58, -0.87, -0.79, -1.03, -0.70, -0.80, -0.64, -0.92, -0.77, -0.86, -0.60, -0.84, -0.73, -0.96, -0.68, -0.82, -0.71,
  -0.66, -0.84, -0.71, -0.58, -0.90, -0.75, -0.63, -0.80, -0.96, -0.69, -0.55, -0.78, -0.87, -0.65, -0.73, -0.92, -0.60, -0.76, -0.83, -0.57, -0.70, -0.99, -0.67, -0.81, -0.62, -0.74, -0.88, -0.59, -0.77, -0.68,
  -0.73, -0.60, -0.79, -0.64, -0.52, -0.85, -0.68, -0.75, -0.57, -0.91, -0.63, -0.71, -0.50, -0.82, -0.66, -0.59, -0.77, -0.69, -0.94, -0.55, -0.72, -0.62, -0.86, -0.65, -0.53, -0.80, -0.67, -0.74, -0.58, -0.70,
  -0.58, -0.75, -0.61, -0.49, -0.81, -0.66, -0.54, -0.70, -0.88, -0.59, -0.47, -0.73, -0.63, -0.78, -0.52, -0.67, -0.60, -0.84, -0.56, -0.71, -0.45, -0.64, -0.77, -0.57, -0.69, -0.51, -0.80, -0.62, -0.55, -0.74,
  -0.63, -0.50, -0.70, -0.55, -0.44, -0.76, -0.58, -0.65, -0.47, -0.82, -0.53, -0.61, -0.41, -0.68, -0.56, -0.73, -0.49, -0.60, -0.79, -0.52, -0.66, -0.43, -0.59, -0.71, -0.54, -0.46, -0.75, -0.57, -0.62, -0.48,
  -0.48, -0.64, -0.51, -0.40, -0.70, -0.55, -0.44, -0.60, -0.77, -0.49, -0.37, -0.58, -0.66, -0.46, -0.53, -0.72, -0.42, -0.56, -0.62, -0.38, -0.50, -0.68, -0.45, -0.59, -0.52, -0.35, -0.63, -0.47, -0.74, -0.54,
  -0.52, -0.40, -0.60, -0.45, -0.34, -0.66, -0.48, -0.55, -0.38, -0.71, -0.43, -0.51, -0.32, -0.58, -0.46, -0.63, -0.39, -0.50, -0.68, -0.42, -0.56, -0.36, -0.49, -0.61, -0.44, -0.53, -0.30, -0.47, -0.57
];
const trainG1Odd = [
  -0.97, -0.80, -1.06, -0.88, -0.72, -0.93, -1.15, -0.84, -0.99, -0.77, -0.90, -1.03, -0.69, -0.86, -0.95, -0.81, -1.09, -0.74, -0.92, -0.87, -1.01, -0.66, -0.89, -0.98, -0.79, -0.94, -1.18, -0.83, -0.71, -0.96,
  -0.75, -0.92, -0.84, -1.05, -0.67, -0.88, -0.79, -0.97, -0.62, -0.86, -1.12, -0.73, -0.90, -0.81, -0.99, -0.70, -0.85, -1.02, -0.77, -0.64, -0.93, -0.82, -1.08, -0.72, -0.89, -0.78, -0.96, -0.60, -0.87, -0.80,
  -0.86, -0.69, -0.95, -0.78, -1.01, -0.63, -0.83, -0.92, -0.72, -1.09, -0.80, -0.66, -0.90, -0.75, -0.98, -0.84, -0.59, -0.88, -0.71, -1.04, -0.79, -0.94, -0.65, -0.82, -0.77, -0.99, -0.68, -0.91, -0.74, -0.85,
  -0.70, -0.88, -0.63, -0.95, -0.79, -0.56, -0.84, -0.73, -1.02, -0.67, -0.81, -0.91, -0.60, -0.77, -0.86, -0.69, -1.06, -0.74, -0.58, -0.89, -0.80, -0.65, -0.97, -0.72, -0.83, -0.62, -0.93, -0.76, -0.68, -0.87,
  -0.79, -0.61, -0.88, -0.70, -0.53, -0.83, -0.67, -0.95, -0.74, -0.59, -0.86, -0.72, -1.00, -0.64, -0.78, -0.55, -0.91, -0.69, -0.81, -0.62, -0.97, -0.75, -0.57, -0.84, -0.66, -0.93, -0.71, -0.80, -0.51, -0.76,
  -0.62, -0.81, -0.56, -0.88, -0.69, -0.74, -0.49, -0.85, -0.64, -0.93, -0.71, -0.58, -0.79, -0.67, -0.97, -0.54, -0.76, -0.63, -0.87, -0.70, -0.47, -0.83, -0.66, -0.75, -0.52, -0.90, -0.68, -0.60, -0.82, -0.72,
  -0.69, -0.52, -0.78, -0.61, -0.86, -0.57, -0.73, -0.44, -0.67, -0.82, -0.59, -0.91, -0.64, -0.50, -0.76, -0.62, -0.85, -0.55, -0.70, -0.47, -0.80, -0.66, -0.58, -0.89, -0.63, -0.74, -0.42, -0.68, -0.56, -0.77,
  -0.51, -0.68, -0.45, -0.74, -0.60, -0.83, -0.53, -0.64, -0.40, -0.71, -0.57, -0.79, -0.48, -0.62, -0.87, -0.55, -0.66, -0.43, -0.76, -0.59, -0.50, -0.70, -0.46, -0.81, -0.58, -0.65, -0.39, -0.72, -0.54, -0.61,
  -0.58, -0.41, -0.66, -0.49, -0.75, -0.54, -0.36, -0.62, -0.47, -0.80, -0.52, -0.69, -0.43, -0.57, -0.72, -0.38, -0.63, -0.50, -0.84, -0.45, -0.60, -0.55, -0.34, -0.67, -0.48, -0.77, -0.53, -0.42, -0.64, -0.56,
  -0.44, -0.61, -0.37, -0.55, -0.70, -0.42, -0.58, -0.33, -0.64, -0.48, -0.75, -0.40, -0.53, -0.67, -0.35, -0.57, -0.46, -0.79, -0.41, -0.52, -0.31, -0.62, -0.45, -0.69, -0.38, -0.56, -0.49, -0.60
];

const trainG2 = [
  -0.60, -0.45, -0.52, -0.39, -0.47, -0.56, -0.42, -0.50, -0.36, -0.54, -0.46, -0.41, -0.58, -0.44, -0.49, -0.35, -0.53, -0.47, -0.40, -0.55, -0.43, -0.51, -0.38, -0.48, -0.57, -0.42, -0.50, -0.37, -0.46, -0.53,
  -0.41, -0.52, -0.44, -0.36, -0.49, -0.55, -0.40, -0.47, -0.33, -0.51, -0.43, -0.58, -0.38, -0.46, -0.42, -0.53, -0.35, -0.48, -0.44, -0.50, -0.37, -0.45, -0.56, -0.39, -0.47, -0.34, -0.52, -0.43, -0.49, -0.40,
  -0.46, -0.35, -0.49, -0.40, -0.53, -0.37, -0.44, -0.31, -0.48, -0.42, -0.55, -0.38, -0.43, -0.50, -0.33, -0.45, -0.39, -0.52, -0.41, -0.36, -0.47, -0.30, -0.44, -0.51, -0.39, -0.46, -0.34, -0.42, -0.57, -0.40,
  -0.37, -0.45, -0.33, -0.42, -0.50, -0.36, -0.41, -0.29, -0.47, -0.39, -0.44, -0.32, -0.53, -0.38, -0.43, -0.35, -0.48, -0.40, -0.30, -0.46, -0.41, -0.34, -0.51, -0.37, -0.44, -0.28, -0.42, -0.49, -0.36, -0.40,
  -0.42, -0.33, -0.46, -0.37, -0.29, -0.44, -0.39, -0.51, -0.35, -0.40, -0.27, -0.43, -0.36, -0.48, -0.32, -0.41, -0.38, -0.45, -0.30, -0.39, -0.47, -0.34, -0.42, -0.26, -0.40, -0.36, -0.49, -0.33, -0.43, -0.37,
  -0.32, -0.41, -0.35, -0.27, -0.44, -0.38, -0.30, -0.47, -0.34, -0.39, -0.25, -0.42, -0.36, -0.31, -0.45, -0.37, -0.28, -0.40, -0.33, -0.49, -0.35, -0.29, -0.43, -0.38, -0.26, -0.41, -0.34, -0.46, -0.31, -0.37,
  -0.38, -0.29, -0.42, -0.33, -0.25, -0.40, -0.35, -0.46, -0.31, -0.37, -0.23, -0.39, -0.32, -0.44, -0.28, -0.36, -0.41, -0.30, -0.34, -0.48, -0.27, -0.38, -0.33, -0.24, -0.43, -0.35, -0.30, -0.39, -0.26, -0.36,
  -0.28, -0.37, -0.31, -0.24, -0.41, -0.33, -0.27, -0.44, -0.30, -0.35, -0.22, -0.38, -0.32, -0.26, -0.40, -0.34, -0.29, -0.46, -0.31, -0.25, -0.36, -0.33, -0.21, -0.39, -0.30, -0.42, -0.28, -0.34, -0.23, -0.37,
  -0.34, -0.26, -0.38, -0.29, -0.22, -0.36, -0.31, -0.42, -0.27, -0.33, -0.20, -0.35, -0.30, -0.39, -0.25, -0.32, -0.28, -0.44, -0.29, -0.23, -0.37, -0.31, -0.26, -0.40, -0.30, -0.21, -0.34, -0.28, -0.36, -0.27,
  -0.25, -0.33, -0.28, -0.21, -0.37, -0.30, -0.24, -0.40, -0.27, -0.32, -0.19, -0.35, -0.29, -0.23, -0.38, -0.26, -0.31, -0.20, -0.34, -0.28, -0.42, -0.25, -0.30, -0.22, -0.36, -0.27, -0.33, -0.24, -0.29
];

const trainG3 = [
  -0.18, -0.12, -0.21, -0.15, -0.09, -0.17, -0.13, -0.24, -0.11, -0.16, -0.08, -0.19, -0.14, -0.10, -0.22, -0.13, -0.17, -0.07, -0.15, -0.20, -0.12, -0.16, -0.09, -0.18, -0.14, -0.11, -0.23, -0.13, -0.16, -0.10,
  -0.13, -0.19, -0.10, -0.16, -0.08, -0.14, -0.21, -0.12, -0.17, -0.06, -0.15, -0.11, -0.20, -0.14, -0.09, -0.18, -0.13, -0.16, -0.07, -0.22, -0.12, -0.15, -0.10, -0.17, -0.13, -0.19, -0.08, -0.14, -0.11, -0.16,
  -0.15, -0.09, -0.18, -0.12, -0.20, -0.11, -0.14, -0.07, -0.16, -0.13, -0.21, -0.10, -0.15, -0.12, -0.08, -0.17, -0.14, -0.19, -0.11, -0.13, -0.06, -0.16, -0.12, -0.18, -0.10, -0.14, -0.22, -0.11, -0.15, -0.09,
  -0.12, -0.17, -0.09, -0.14, -0.06, -0.15, -0.11, -0.19, -0.13, -0.08, -0.16, -0.12, -0.20, -0.10, -0.14, -0.07, -0.13, -0.18, -0.11, -0.15, -0.09, -0.21, -0.12, -0.14, -0.08, -0.16, -0.11, -0.13, -0.17, -0.10,
  -0.14, -0.08, -0.16, -0.11, -0.19, -0.10, -0.13, -0.06, -0.15, -0.12, -0.18, -0.09, -0.14, -0.11, -0.07, -0.17, -0.12, -0.15, -0.08, -0.20, -0.11, -0.13, -0.09, -0.16, -0.10, -0.14, -0.05, -0.12, -0.18, -0.11,
  -0.10, -0.15, -0.08, -0.13, -0.18, -0.11, -0.06, -0.14, -0.09, -0.16, -0.12, -0.07, -0.17, -0.10, -0.13, -0.19, -0.08, -0.12, -0.15, -0.09, -0.11, -0.05, -0.14, -0.10, -0.16, -0.08, -0.13, -0.11, -0.17, -0.09,
  -0.12, -0.07, -0.14, -0.10, -0.17, -0.08, -0.13, -0.05, -0.11, -0.15, -0.09, -0.12, -0.18, -0.08, -0.10, -0.14, -0.06, -0.13, -0.11, -0.16, -0.09, -0.12, -0.07, -0.15, -0.10, -0.13, -0.08, -0.19, -0.11, -0.09,
  -0.09, -0.13, -0.07, -0.11, -0.16, -0.10, -0.05, -0.12, -0.08, -0.14, -0.11, -0.06, -0.15, -0.09, -0.12, -0.17, -0.07, -0.10, -0.13, -0.08, -0.11, -0.04, -0.12, -0.09, -0.14, -0.07, -0.11, -0.10, -0.16, -0.08,
  -0.11, -0.06, -0.13, -0.09, -0.15, -0.07, -0.12, -0.04, -0.10, -0.14, -0.08, -0.11, -0.17, -0.07, -0.09, -0.13, -0.05, -0.12, -0.10, -0.15, -0.08, -0.11, -0.06, -0.14, -0.09, -0.12, -0.07, -0.16, -0.10, -0.08,
  -0.08, -0.12, -0.06, -0.10, -0.15, -0.09, -0.04, -0.11, -0.07, -0.13, -0.10, -0.05, -0.14, -0.08, -0.11, -0.16, -0.06, -0.09, -0.12, -0.07, -0.10, -0.03, -0.11, -0.08, -0.13, -0.06, -0.10, -0.09, -0.14
];

const trainG4 = [
  -0.02, -0.01, -0.03, 0, -0.02, -0.04, -0.01, -0.02, 0, -0.03, -0.01, -0.02, -0.05, -0.01, 0, -0.02, -0.03, -0.01, -0.02, 0, -0.04, -0.01, -0.02, -0.03, 0, -0.01, -0.02, -0.01, -0.03, -0.02,
  -0.01, -0.03, 0, -0.02, -0.01, -0.04, -0.02, 0, -0.01, -0.03, -0.02, -0.01, 0, -0.02, -0.04, -0.01, -0.03, 0, -0.02, -0.01, -0.02, -0.05, 0, -0.01, -0.03, -0.02, -0.01, 0, -0.02, -0.03,
  -0.02, 0, -0.01, -0.03, -0.02, -0.01, -0.04, 0, -0.02, -0.01, -0.03, 0, -0.02, -0.01, -0.02, -0.04, -0.01, 0, -0.03, -0.02, -0.01, -0.02, 0, -0.03, -0.01, -0.02, -0.04, -0.01, 0, -0.02,
  -0.03, -0.01, 0, -0.02, -0.04, -0.01, -0.02, -0.03, 0, -0.01, -0.02, -0.05, -0.01, 0, -0.02, -0.03, -0.01, -0.02, 0, -0.04, -0.02, -0.01, -0.03, 0, -0.02, -0.01, -0.02, -0.03, -0.01, 0,
  -0.01, -0.02, -0.04, 0, -0.01, -0.03, -0.02, -0.01, 0, -0.02, -0.03, -0.01, -0.02, -0.04, 0, -0.01, -0.02, -0.03, -0.01, 0, -0.02, -0.01, -0.05, -0.02, 0, -0.01, -0.03, -0.02, -0.01, -0.02,
  0, -0.02, -0.01, -0.03, -0.02, 0, -0.04, -0.01, -0.02, -0.03, -0.01, 0, -0.02, -0.01, -0.03, -0.02, -0.04, 0, -0.01, -0.02, -0.03, -0.01, 0, -0.02, -0.01, -0.04, -0.02, 0, -0.03, -0.01,
  -0.02, -0.03, -0.01, 0, -0.02, -0.01, -0.03, -0.04, 0, -0.02, -0.01, -0.02, -0.03, 0, -0.01, -0.05, -0.02, -0.01, 0, -0.03, -0.02, -0.01, -0.02, -0.04, 0, -0.01, -0.03, -0.02, 0, -0.01,
  -0.01, 0, -0.03, -0.02, -0.01, -0.04, 0, -0.02, -0.01, -0.03, -0.02, 0, -0.01, -0.02, -0.04, -0.01, 0, -0.03, -0.02, -0.01, -0.02, 0, -0.03, -0.01, -0.02, -0.04, -0.01, 0, -0.02, -0.03,
  -0.02, -0.01, 0, -0.03, -0.02, -0.01, -0.02, -0.04, 0, -0.01, -0.03, -0.02, -0.01, 0, -0.02, -0.03, -0.01, -0.05, 0, -0.02, -0.01, -0.03, -0.02, 0, -0.01, -0.02, -0.04, -0.01, 0, -0.02,
  -0.01, -0.03, -0.02, 0, -0.01, -0.02, -0.04, -0.01, 0, -0.03, -0.02, -0.01, -0.02, 0, -0.03, -0.01, -0.02, -0.04, 0, -0.01, -0.02, -0.03, -0.01, 0, -0.02, -0.01, -0.03, -0.02, -0.01
];

// example current traces, first five responses (ms, nA)
const traceTimes = [
  0,
  1.55, 1.75, 1.9, 2.1, 2.35, 2.65, 3.05, 3.65, 4.65, 6.35, 8.85,
  11.55, 11.75, 11.9, 12.1, 12.35, 12.65, 13.05, 13.65, 14.65, 16.35, 18.85,
  21.55, 21.75, 21.9, 22.1, 22.35, 22.65, 23.05, 23.65, 24.65, 26.35, 28.85,
  31.55, 31.75, 31.9, 32.1, 32.35, 32.65, 33.05, 33.65, 34.65, 36.35, 38.85,
  41.55, 41.75, 41.9, 42.1, 42.35, 42.65, 43.05, 43.65, 44.65, 45.0
];
const traceBlue = [
  0,
  0, 0.9, -4.8, -10.0, -6.4, -2.8, -1.3, -0.55, -0.3, -0.15, -0.05,
  -0.02, 0.9, -4.8, -10.0, -6.4, -2.8, -1.3, -0.55, -0.3, -0.15, -0.05,
  -0.02, 0.9, -4.6, -9.7, -6.2, -2.7, -1.25, -0.5, -0.3, -0.15, -0.05,
  -0.02, 0.9, -4.3, -9.1, -5.8, -2.5, -1.2, -0.5, -0.3, -0.15, -0.05,
  -0.02, 0.9, -4.2, -8.9, -5.7, -2.5, -1.15, -0.5, -0.3, -0.2
];
const traceGray = [
  0,
  0, 0.3, -1.3, -2.6, -1.7, -0.8, -0.35, -0.2, -0.1, -0.05, 0,
  0, 0.3, -1.4, -2.8, -1.8, -0.85, -0.4, -0.2, -0.1, -0.05, 0,
  0, 0.3, -1.0, -2.1, -1.4, -0.7, -0.3, -0.15, -0.1, -0.05, 0,
  0, 0.3, -1.3, -2.6, -1.7, -0.8, -0.35, -0.2, -0.1, -0.05, 0,
  0, 0.3, -0.9, -1.9, -1.3, -0.6, -0.3, -0.15, -0.1, -0.05
];

// scale bar (trace units)
const barTime = 33.2, barLenMs = 10, barLenNa = 2, barLevel = -24.8;

const cells = [
  { burst: burstG1, sets: [[EVEN_START, trainG1], [ODD_START, trainG1Odd]], color: GRAY },
  { burst: burstG2, sets: [[EVEN_START, trainG2]], color: GRAY },
  { burst: burstG3, sets: [[EVEN_START, trainG3]], color: GRAY },
  { burst: burstG4, sets: [[EVEN_START, trainG4]], color: GRAY },
  { burst: burstA, sets: [[EVEN_START, trainA], [WIDE_START, trainAWide], [ODD_START, trainAOdd]], color: BLUE },
  { burst: burstB, sets: [[EVEN_START, trainB], [WIDE_START, trainBWide], [ODD_START, trainBOdd]], color: BLUE },
  { burst: burstC, sets: [[EVEN_START, trainC], [WIDE_START, trainCWide], [ODD_START, trainCOdd]], color: BLUE },
  { burst: burstD, sets: [[EVEN_START, trainD], [WIDE_START, trainDWide], [ODD_START, trainDOdd]], color: BLUE }
];

const svg = d3.select('#fig');

const styleAxis = (g, fontSize) => {
  g.attr('font-family', null).attr('font-size', null);
  g.selectAll('path.domain').attr('stroke', INK).attr('stroke-width', 3).attr('stroke-linecap', 'square');
  g.selectAll('.tick line').attr('stroke', INK).attr('stroke-width', 3);
  g.selectAll('.tick text').attr('fill', INK).style('font-size', fontSize + 'px');
};

// ---- titles
svg.append('text').attr('x', 21).attr('y', 76).style('font-size', '82px').text('B');
svg.append('text').attr('x', 113).attr('y', 73).style('font-size', '46.5px')
  .text('Raw EPSC amplitude: HFS at 30 min');

// ---- main plot
const x = d3.scaleLinear().domain([0, 30]).range([147, 1186]);
const y = d3.scaleLinear().domain([0, -18]).range([756, 239]);

svg.append('g')
  .attr('transform', 'translate(0,' + y(0) + ')')
  .call(d3.axisBottom(x).tickValues(xTicks).tickSize(13).tickSizeOuter(0).tickPadding(18).tickFormat(d => String(d)))
  .call(g => styleAxis(g, 44));

svg.append('g')
  .attr('transform', 'translate(' + x(0) + ',0)')
  .call(d3.axisLeft(y).tickValues(yTicks).tickSize(14).tickSizeOuter(0).tickPadding(9).tickFormat(d => String(d)))
  .call(g => styleAxis(g, 41));

svg.append('text')
  .attr('transform', 'translate(57,' + ((y(0) + y(-18)) / 2) + ') rotate(-90)')
  .attr('text-anchor', 'middle')
  .style('font-size', '51px')
  .text('EPSC amplitude (nA)');

svg.append('text')
  .attr('x', (x(0) + x(30)) / 2).attr('y', 879)
  .attr('text-anchor', 'middle')
  .style('font-size', '55px')
  .text('Time (s)');

const dots = svg.append('g').attr('class', 'dots');
cells.forEach(cell => {
  let pts = cell.burst.map((v, i) => ({ t: burstTimes[i], v }));
  cell.sets.forEach(([start, values]) => {
    pts = pts.concat(values.map((v, i) => ({ t: start + i * TRAIN_STEP, v })));
  });
  dots.append('g')
    .attr('fill', cell.color)
    .selectAll('circle')
    .data(pts)
    .join('circle')
    .attr('cx', d => x(d.t))
    .attr('cy', d => y(d.v))
    .attr('r', 3.6);
});

// ---- inset: first 0.1 s
const xi = d3.scaleLinear().domain([0, 0.1]).range([252, 460]);
const yi = d3.scaleLinear().domain([0, -18]).range([420, 107]);

const insetY = svg.append('g')
  .attr('transform', 'translate(' + xi(0) + ',0)')
  .call(d3.axisLeft(yi).tickValues(insetYTicks).tickSize(12).tickSizeOuter(0).tickPadding(10).tickFormat(d => String(d)))
  .call(g => styleAxis(g, 41));
insetY.select('path.domain').remove();
insetY.append('line')
  .attr('y1', yi(-18)).attr('y2', yi(0) + 12)
  .attr('stroke', INK).attr('stroke-width', 3);

const insetX = svg.append('g')
  .attr('transform', 'translate(0,' + (yi(0) + 1) + ')')
  .call(d3.axisBottom(xi).tickValues(insetXTicks).tickSize(12).tickPadding(18).tickFormat(d3.format('.1f')))
  .call(g => styleAxis(g, 41));
insetX.select('path.domain').remove();
insetX.append('text')
  .attr('x', xi(0.1) + 46).attr('y', 30).attr('dy', '0.71em')
  .attr('fill', INK).style('font-size', '41px')
  .text('s');

const insetLine = d3.line().x((d, i) => xi(burstTimes[i])).y(d => yi(d));
cells.forEach(cell => {
  const g = svg.append('g');
  g.append('path')
    .attr('d', insetLine(cell.burst))
    .attr('fill', 'none')
    .attr('stroke', cell.color)
    .attr('stroke-width', 4)
    .attr('stroke-linejoin', 'round');
  g.selectAll('circle')
    .data(cell.burst)
    .join('circle')
    .attr('cx', (d, i) => xi(burstTimes[i]))
    .attr('cy', d => yi(d))
    .attr('r', 4.8)
    .attr('fill', cell.color);
});

// ---- example traces + scale bar
const xt = d3.scaleLinear().domain([0, 45]).range([710, 1180]);
const yt = d3.scaleLinear().domain([0, -10]).range([115, 180]);
const traceLine = d3.line()
  .x((d, i) => xt(traceTimes[i]))
  .y(d => yt(d))
  .curve(d3.curveMonotoneX);

svg.append('path')
  .attr('d', traceLine(traceBlue))
  .attr('fill', 'none').attr('stroke', BLUE).attr('stroke-width', 3.6)
  .attr('stroke-linejoin', 'round');

svg.append('path')
  .attr('transform', 'translate(0,84)')
  .attr('d', traceLine(traceGray))
  .attr('fill', 'none').attr('stroke', GRAY).attr('stroke-width', 3.6)
  .attr('stroke-linejoin', 'round');

const bar = svg.append('g').attr('fill', 'none').attr('stroke', INK).attr('stroke-width', 2.6);
bar.append('path')
  .attr('d', d3.line()([
    [xt(barTime), yt(barLevel + barLenNa)],
    [xt(barTime), yt(barLevel)],
    [xt(barTime + barLenMs), yt(barLevel)]
  ]));

svg.append('text')
  .attr('x', xt(barTime) - 8).attr('y', yt(barLevel) + 6)
  .attr('text-anchor', 'end')
  .style('font-size', '41px')
  .text('2 nA');

svg.append('text')
  .attr('x', xt(barTime + barLenMs / 2)).attr('y', yt(barLevel) + 41)
  .attr('text-anchor', 'middle')
  .style('font-size', '41px')
  .text('10 ms');
</script>
</body>
</html>
